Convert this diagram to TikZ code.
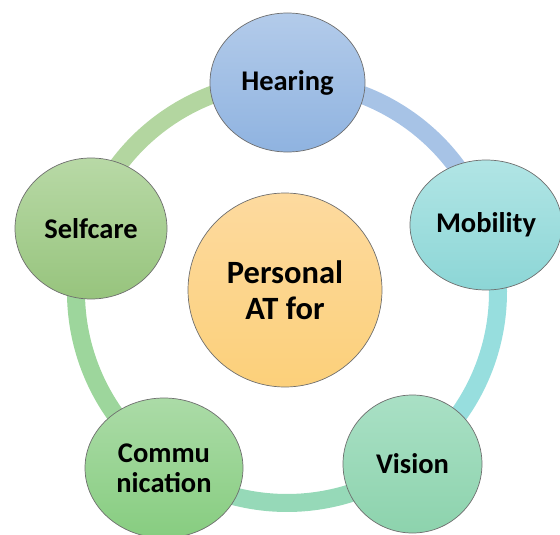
\documentclass[tikz,border=0pt]{standalone}
\usepackage{fontspec}
\setmainfont{Carlito}
\usetikzlibrary{shapes.geometric,calc}
\definecolor{hearT}{HTML}{B3CBEA}\definecolor{hearB}{HTML}{8FB3E0}
\definecolor{mobT}{HTML}{B1E5E5}\definecolor{mobB}{HTML}{8CD6D6}
\definecolor{visT}{HTML}{A9E0C5}\definecolor{visB}{HTML}{8DD3AD}
\definecolor{comT}{HTML}{ABDBA7}\definecolor{comB}{HTML}{87CD80}
\definecolor{selT}{HTML}{B8D9A6}\definecolor{selB}{HTML}{97C47D}
\definecolor{cenT}{HTML}{FDDA9F}\definecolor{cenB}{HTML}{FCD07A}
\definecolor{rH}{HTML}{A7C3E6}\definecolor{rM}{HTML}{97DEDE}
\definecolor{rV}{HTML}{96D9B8}\definecolor{rC}{HTML}{9DD69C}
\definecolor{rS}{HTML}{B3D6A0}
\definecolor{edge}{HTML}{6E6E6E}
\tikzset{
  blob/.style={ellipse, draw=edge, line width=0.7pt, inner sep=0pt,
    align=center, font=\fontsize{28.5}{30}\selectfont\bfseries},
  ringseg/.style={line width=18pt, line cap=butt}
}
\begin{document}
\begin{tikzpicture}[x=1pt,y=-1pt]
\useasboundingbox (0,0) rectangle (560,535);
\coordinate (ctr) at (287,292);
% ring segments, each in the colour of the node it leaves
\foreach \a/\b/\c in {-90/-18.6/rH, -18.6/53.9/rM, 53.9/124.6/rV, 124.6/198/rC, 198/270/rS}{
  \draw[ringseg, color=\c] ($(ctr)+(\a:211)$) arc[start angle=\a, end angle=\b, radius=211];
}
\node[blob, minimum width=155pt, minimum height=139pt, top color=hearT, bottom color=hearB] (hear) at (287.5,82.5) {Hearing};
\node[blob, minimum width=152pt, minimum height=130pt, top color=mobT, bottom color=mobB] (mob) at (486,225) {Mobility};
\node[blob, minimum width=139pt, minimum height=138pt, top color=visT, bottom color=visB] (vis) at (412.5,464) {Vision};
\node[blob, minimum width=158pt, minimum height=140pt, top color=comT, bottom color=comB] (com) at (164,468) {Commu\\nication};
\node[blob, minimum width=152pt, minimum height=141pt, top color=selT, bottom color=selB] (self) at (91,228.5) {Selfcare};
\node[blob, minimum width=194pt, minimum height=194pt, top color=cenT, bottom color=cenB, font=\fontsize{32.5}{36}\selectfont\bfseries] (cen) at (285,290) {Personal\\AT for};
\end{tikzpicture}
\end{document}
